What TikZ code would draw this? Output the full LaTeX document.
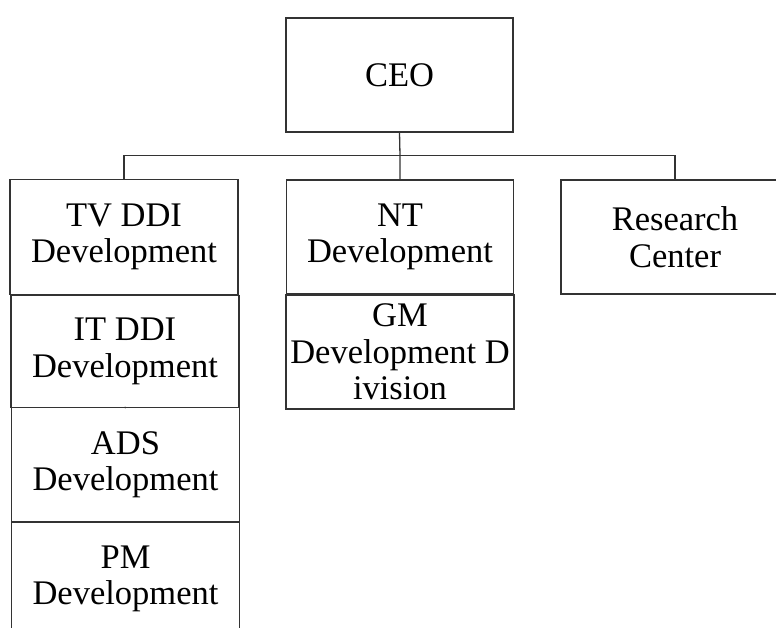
\documentclass[tikz,border=0pt]{standalone}
\usepackage{fontspec}
\setmainfont{Liberation Serif}
\begin{document}
\begin{tikzpicture}[x=1pt,y=-1pt,
  box/.style={draw=black!80,line width=1.3pt,rectangle,minimum width=228pt,minimum height=114pt,
    inner sep=0pt,align=center,font=\fontsize{34.5}{36.5}\selectfont},
  link/.style={draw=black!80,line width=1.3pt}]
\useasboundingbox (0,0) rectangle (776,628);
\clip (0,0) rectangle (776,628);
\node[box,minimum width=227pt,minimum height=114pt] (ceo) at (399.5,75) {CEO};
\node[box,minimum height=115pt] (tv) at (124,237) {TV DDI\\Development};
\node[box,minimum height=112pt] (it) at (125,351.5) {IT DDI\\Development};
\node[box] (ads) at (125.5,464.5) {ADS\\Development};
\node[box] (pm) at (125.5,579) {PM\\Development};
\node[box,minimum width=227pt] (nt) at (400,237) {NT\\Development};
\node[box] (gm) at (400,352) {GM\\Development D\\ivision};
\node[box] (rc) at (675,237) {Research\\Center};
\coordinate (bus) at (400,155.5);
\draw[link] (ceo.south) -- (bus) -- (nt.north);
\draw[link] (bus) -| (tv.north);
\draw[link] (bus) -| (rc.north);
\draw[link] (tv.south) -- (it.north);
\draw[link] (it.south) -- (ads.north);
\draw[link] (ads.south) -- (pm.north);
\draw[link] (nt.south) -- (gm.north);
\end{tikzpicture}
\end{document}
